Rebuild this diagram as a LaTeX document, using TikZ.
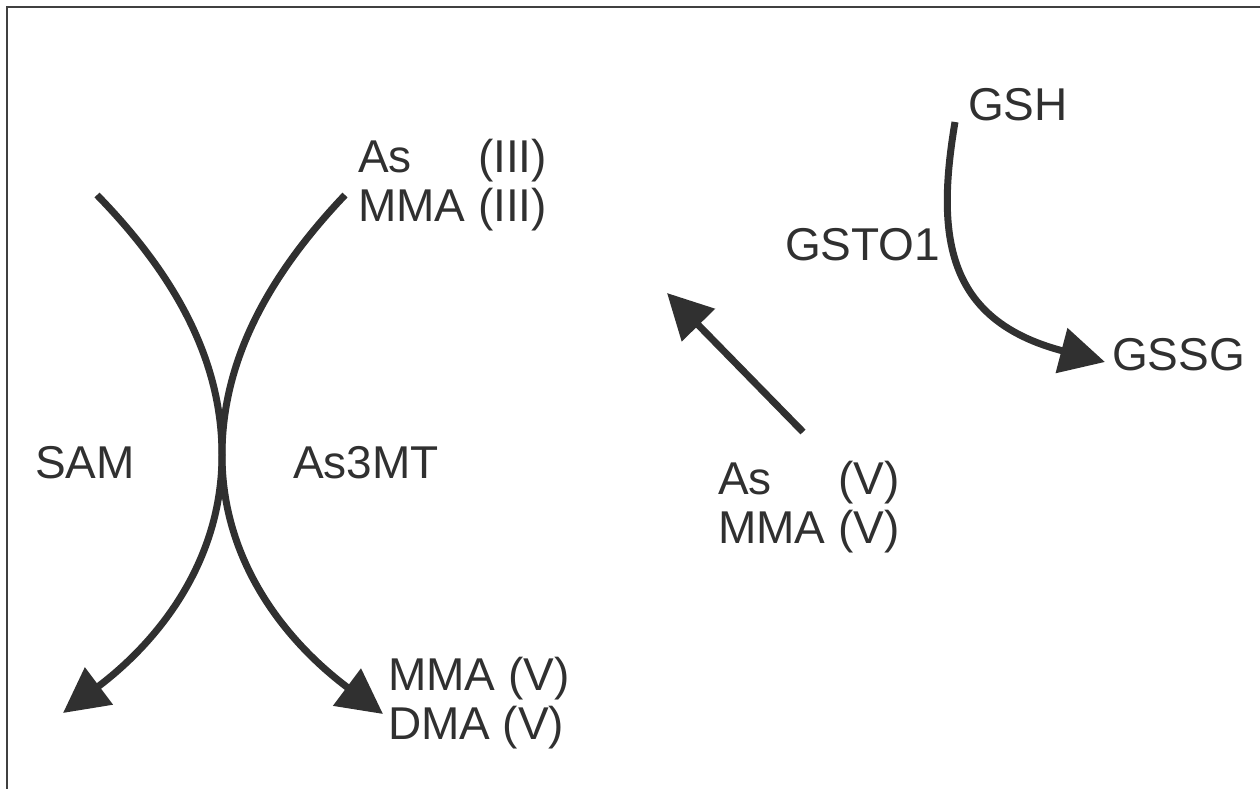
\documentclass[tikz,border=0pt]{standalone}
\usepackage{fontspec}
\setmainfont{Liberation Sans}
\usetikzlibrary{arrows.meta}
\definecolor{ink}{HTML}{303030}
\definecolor{frame}{HTML}{404040}
\tikzset{
  lbl/.style={anchor=west, inner sep=0pt, outer sep=0pt, text=ink, font=\fontsize{46}{49}\selectfont, align=left},
  conn/.style={draw=ink, line width=7pt, -{Triangle[length=45pt,width=45pt]}}
}
\begin{document}
\begin{tikzpicture}[x=1pt,y=-1pt]
\useasboundingbox (0,0) rectangle (1260,789);
\draw[frame, line width=2pt] (7,789) -- (7,7) -- (1260,7);
% labels
\node[lbl] (as3) at (358,187) {\begin{tabular}{@{}l@{ }l@{}}As & (III)\\ MMA & (III)\end{tabular}};
\node[lbl] (sam) at (35,463) {SAM};
\node[lbl] (as3mt) at (293,463) {As3MT};
\node[lbl] (mdv) at (388,703) {MMA (V)\\DMA (V)};
\node[lbl] (gsh) at (968,105) {GSH};
\node[lbl] (gsto) at (785,245) {GSTO1};
\node[lbl] (gssg) at (1112,355) {GSSG};
\node[lbl] (as5) at (718,509) {\begin{tabular}{@{}l@{ }l@{}}As & (V)\\ MMA & (V)\end{tabular}};
% coordinates
\coordinate (ls) at (97,195);
\coordinate (x) at (222,455);
\coordinate (le) at (63,713);
\coordinate (rs) at (345,195);
\coordinate (re) at (383,714);
\coordinate (gs) at (955,122);
\coordinate (ge) at (1105,362);
\coordinate (ts) at (803,432);
\coordinate (te) at (667,293);
% curves
\draw[conn] (ls) .. controls (175,275) and (222,360) .. (x) .. controls (222,560) and (160,640) .. (le);
\draw[conn] (rs) .. controls (269,275) and (222,360) .. (x) .. controls (222,560) and (284,640) .. (re);
\draw[conn] (gs) .. controls (936,235) and (945,320) .. (ge);
\draw[conn] (ts) -- (te);
\end{tikzpicture}
\end{document}
